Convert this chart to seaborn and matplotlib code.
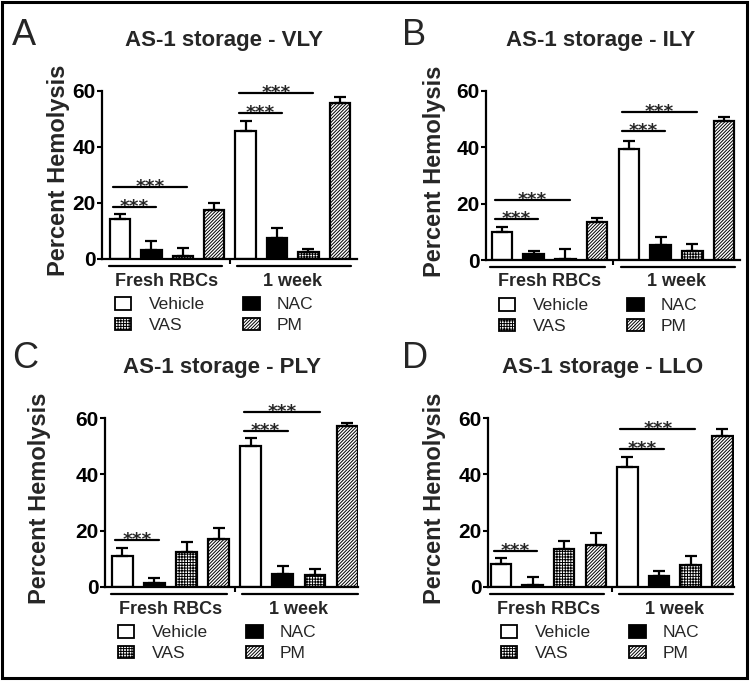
import numpy as np
import pandas as pd
import matplotlib
matplotlib.use("Agg")
import matplotlib.pyplot as plt
from matplotlib.patches import Patch, Rectangle
import seaborn as sns

# ---------------- data ----------------
groups = ["Fresh RBCs", "1 week"]
treatments = ["Vehicle", "NAC", "VAS", "PM"]
panel_letters = ["A", "B", "C", "D"]
panel_titles = ["AS-1 storage - VLY", "AS-1 storage - ILY",
                "AS-1 storage - PLY", "AS-1 storage - LLO"]
y_ticks = [0, 20, 40, 60]

vly_mean = [14.3, 3.3, 1.2, 17.6, 45.7, 7.4, 2.4, 55.7]
vly_err = [1.9, 3.2, 2.6, 2.5, 3.7, 3.8, 1.2, 2.2]
ily_mean = [10.1, 2.1, 0.3, 13.4, 39.4, 5.3, 3.3, 49.5]
ily_err = [1.7, 1.2, 3.5, 1.5, 2.7, 2.7, 2.3, 1.4]
ply_mean = [11.0, 1.3, 12.4, 17.2, 50.2, 4.5, 4.3, 57.3]
ply_err = [2.9, 2.0, 3.5, 3.6, 2.7, 2.8, 2.2, 1.1]
llo_mean = [8.3, 0.6, 13.6, 14.8, 42.6, 3.9, 7.7, 53.7]
llo_err = [1.9, 2.9, 2.7, 4.2, 3.6, 1.8, 3.3, 2.5]

# significance brackets: (from bar, to bar, height)
vly_sig = [(0, 1, 18.7), (0, 2, 25.6), (4, 5, 52.3), (4, 6, 59.2)]
ily_sig = [(0, 1, 14.6), (0, 2, 21.3), (4, 5, 45.9), (4, 6, 52.7)]
ply_sig = [(0, 1, 16.6), (4, 5, 55.5), (4, 6, 62.1)]
llo_sig = [(0, 1, 12.7), (4, 5, 49.1), (4, 6, 56.1)]

means = [vly_mean, ily_mean, ply_mean, llo_mean]
errs = [vly_err, ily_err, ply_err, llo_err]
sigs = [vly_sig, ily_sig, ply_sig, llo_sig]

# ---------------- style ----------------
sns.set_style("ticks")
plt.rcParams["font.family"] = ["Liberation Sans", "DejaVu Sans"]
plt.rcParams["hatch.linewidth"] = 0.7

W, H = 750, 682
fig = plt.figure(figsize=(W / 100, H / 100), dpi=100)

def fx(x):
    return x / W

def fy(y):
    return 1 - y / H

face = {"Vehicle": "white", "NAC": "black", "VAS": "white", "PM": "white"}
hatch = {"Vehicle": "", "NAC": "", "VAS": "++++++", "PM": "//////////"}

# layout per panel in pixels
layouts = [
    dict(l=102, r=357, t=91, b=259, xlim=(-0.57, 7.55), ylab=70, tx=224, ty=46, lx=12, ly=45),
    dict(l=486, r=740, t=91, b=260, xlim=(-0.50, 7.50), ylab=446, tx=601, ty=46, lx=402, ly=45),
    dict(l=105, r=358, t=418, b=587, xlim=(-0.54, 7.34), ylab=51, tx=222, ty=373, lx=12, ly=368),
    dict(l=488, r=734, t=418, b=587, xlim=(-0.41, 7.37), ylab=446, tx=603, ty=373, lx=402, ly=368),
]

for k in range(4):
    L = layouts[k]
    ax = fig.add_axes([fx(L["l"]), fy(L["b"]), fx(L["r"] - L["l"]), (L["b"] - L["t"]) / H])
    bar_names = [f"{g}|{t}" for g in groups for t in treatments]
    df = pd.DataFrame({
        "bar": bar_names,
        "treatment": [t for g in groups for t in treatments],
        "value": means[k],
    })
    sns.barplot(data=df, x="bar", y="value", hue="treatment", hue_order=treatments,
                palette=face, dodge=False, width=0.65, edgecolor="black",
                linewidth=1.6, legend=False, errorbar=None, ax=ax, zorder=2)
    for p in ax.patches:
        xc = p.get_x() + p.get_width() / 2
        t = treatments[int(round(xc)) % 4]
        p.set_hatch(hatch[t])
        p.set_facecolor(face[t])
        p.set_edgecolor("black")
    xs = np.arange(len(bar_names))
    ax.errorbar(xs, means[k], yerr=[np.zeros(len(xs)), errs[k]], fmt="none",
                ecolor="black", elinewidth=1.6, capsize=4.3, capthick=1.6, zorder=3)

    ax.set_ylim(0, 60)
    ax.set_xlim(*L["xlim"])
    ax.set_yticks(y_ticks)
    ax.set_yticklabels([str(v) for v in y_ticks], fontsize=15, fontweight="bold")
    ax.set_xticks([3.5])
    ax.set_xticklabels([""])
    ax.tick_params(axis="both", direction="out", length=3.6, width=1.5, pad=1, colors="black")
    sns.despine(ax=ax)
    for s in ["left", "bottom"]:
        ax.spines[s].set_linewidth(1.6)
        ax.spines[s].set_color("black")
    ax.set_xlabel("")
    ax.set_ylabel("Percent Hemolysis", fontsize=17, fontweight="bold")
    ax.yaxis.set_label_coords((L["ylab"] - L["l"]) / (L["r"] - L["l"]), 0.525)

    # significance brackets
    for (i, j, h) in sigs[k]:
        x0, x1 = i - 0.22, j + 0.15
        ax.plot([x0, x1], [h, h], color="black", lw=1.6, clip_on=False, zorder=4)
        ax.annotate("***", xy=((x0 + x1) / 2, h), xytext=(0, -3.6),
                    textcoords="offset points", ha="center", va="baseline",
                    fontsize=13.3, family="DejaVu Sans", fontweight="bold",
                    annotation_clip=False)

    # group underlines and labels
    px_per_unit = (L["b"] - L["t"]) / 60.0
    yline = -7.0 / px_per_unit
    ylab_g = -22.0 / px_per_unit
    for gi, g in enumerate(groups):
        xa = gi * 4 - 0.36 + (0.1 if gi else 0)
        xb = gi * 4 + 3.25 + (0.1 if gi else 0)
        ax.plot([xa, xb], [yline, yline], color="black", lw=1.6, clip_on=False)
        ax.text(gi * 4 + 1.5, ylab_g, g, ha="center", va="center",
                fontsize=13, fontweight="bold")

    # legend
    handles = [Patch(facecolor=face[t], edgecolor="black", hatch=hatch[t], linewidth=1.3)
               for t in treatments]
    order = [0, 2, 1, 3]
    ax.legend([handles[i] for i in order], [treatments[i] for i in order],
              ncol=2, loc="upper left",
              bbox_to_anchor=(13 / (L["r"] - L["l"]), -38 / (L["b"] - L["t"])),
              frameon=False, fontsize=12.5, handlelength=0.95, handleheight=0.75,
              handletextpad=1.0, columnspacing=2.2, labelspacing=0.3,
              borderpad=0, borderaxespad=0)

    # title and letter
    fig.text(fx(L["tx"]), fy(L["ty"]), panel_titles[k], ha="center", va="baseline",
             fontsize=16, fontweight="bold")
    fig.text(fx(L["lx"]), fy(L["ly"]), panel_letters[k], ha="left", va="baseline",
             fontsize=26)

# outer frame
fig.add_artist(Rectangle((fx(2), fy(678)), fx(745), (676) / H, transform=fig.transFigure,
                         fill=False, lw=2.2, edgecolor="black"))

fig.savefig("out.png", dpi=100)
